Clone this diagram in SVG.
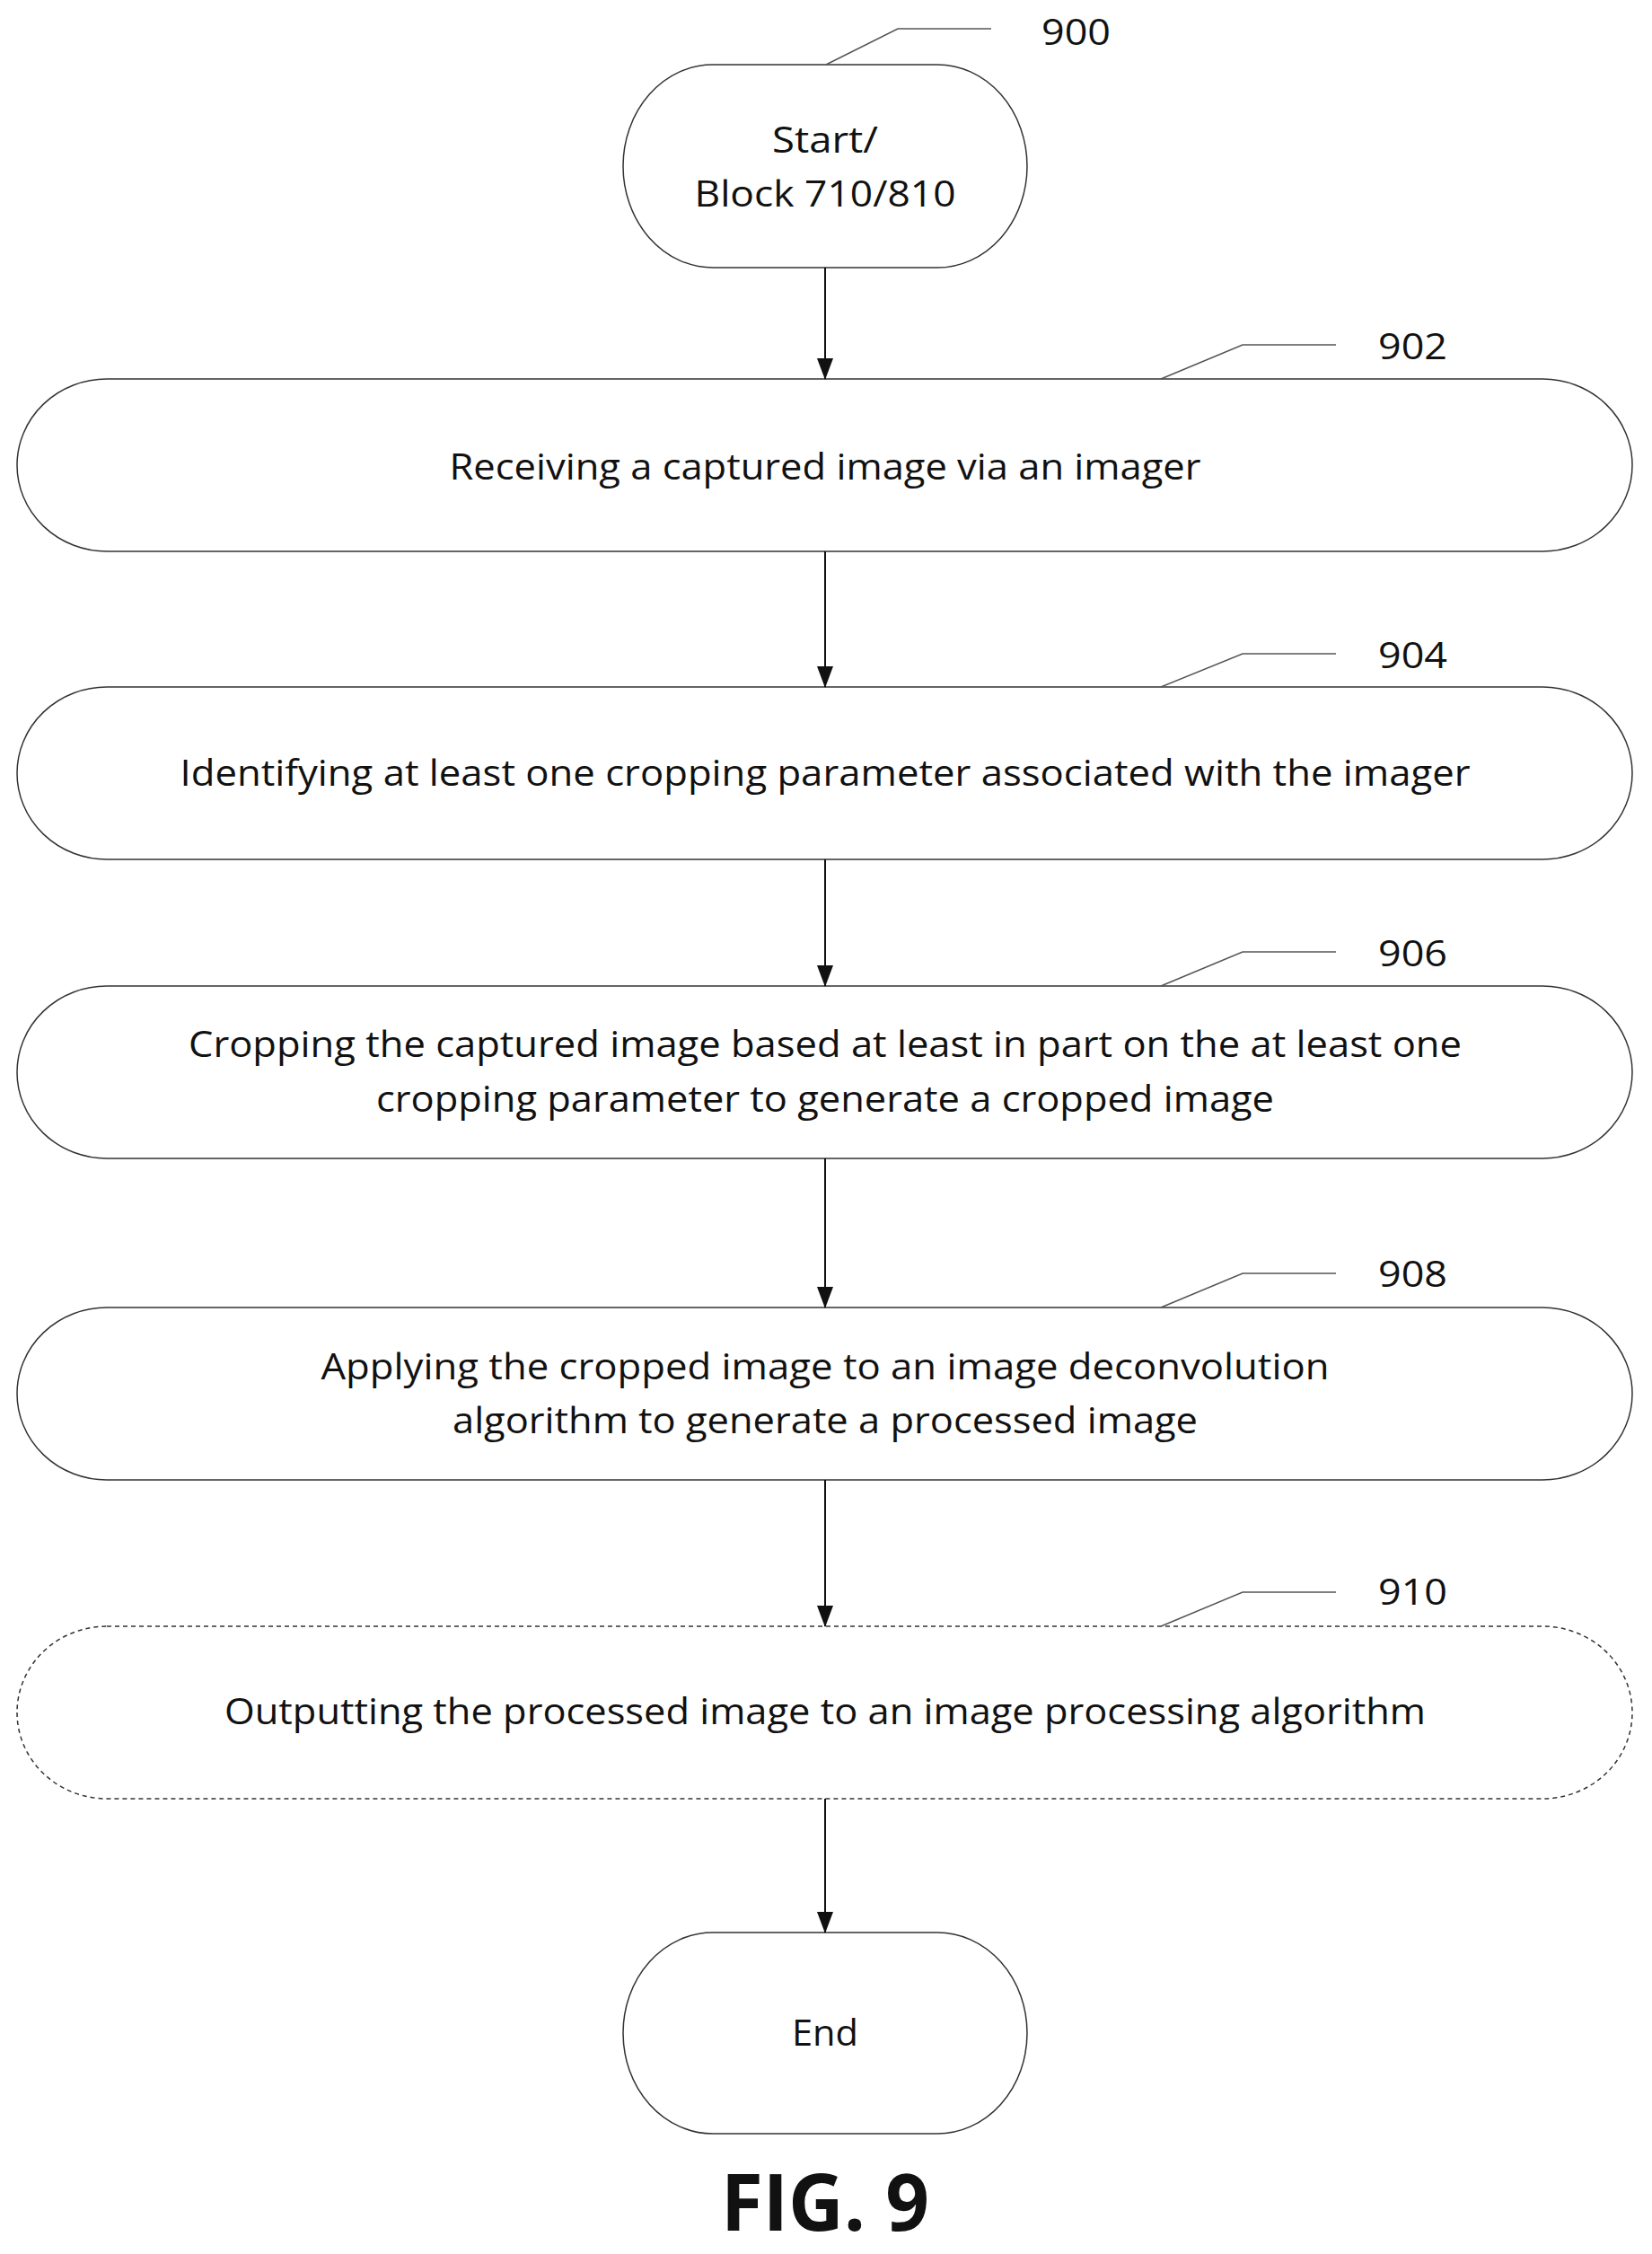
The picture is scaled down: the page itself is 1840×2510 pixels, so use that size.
<svg xmlns="http://www.w3.org/2000/svg" width="1840" height="2510" viewBox="0 0 1840 2510">
<style>
.n{fill:#fff;stroke:#333;stroke-width:1.5}
.d{stroke-dasharray:5 4}
.t{font-family:"Open Sans","Noto Sans",sans-serif;font-size:40px;fill:#111;text-anchor:middle}
.lab{font-family:"Open Sans","Noto Sans",sans-serif;font-size:40px;fill:#111}
.ld{fill:none;stroke:#555;stroke-width:1.5}
.c{stroke:#111;stroke-width:2;fill:none;marker-end:url(#a)}
</style>
<defs><marker id="a" markerWidth="24" markerHeight="18" refX="23" refY="9" orient="auto" markerUnits="userSpaceOnUse"><path d="M0,0 L24,9 L0,18 Z" fill="#111"/></marker></defs>
<rect width="1840" height="2510" fill="#fff"/>
<g id="n900">
<rect class="n" x="694" y="72" width="450" height="226" rx="100" ry="113"/>
<text class="t" x="919" y="170" textLength="118" lengthAdjust="spacingAndGlyphs">Start/</text>
<text class="t" x="919" y="230" textLength="291" lengthAdjust="spacingAndGlyphs">Block 710/810</text>
<polyline class="ld" points="920,72 1000,32 1104,32"/>
<text class="lab" x="1160" y="50" textLength="77" lengthAdjust="spacingAndGlyphs">900</text>
</g>
<g id="n902">
<rect class="n" x="19" y="422" width="1799" height="192" rx="100" ry="96"/>
<text class="t" x="919" y="534" textLength="837" lengthAdjust="spacingAndGlyphs">Receiving a captured image via an imager</text>
<polyline class="ld" points="1293,422 1384,384 1488,384"/>
<text class="lab" x="1535" y="400" textLength="77" lengthAdjust="spacingAndGlyphs">902</text>
</g>
<g id="n904">
<rect class="n" x="19" y="765" width="1799" height="192" rx="100" ry="96"/>
<text class="t" x="919" y="875" textLength="1437" lengthAdjust="spacingAndGlyphs">Identifying at least one cropping parameter associated with the imager</text>
<polyline class="ld" points="1293,765 1384,728 1488,728"/>
<text class="lab" x="1535" y="744" textLength="77" lengthAdjust="spacingAndGlyphs">904</text>
</g>
<g id="n906">
<rect class="n" x="19" y="1098" width="1799" height="192" rx="100" ry="96"/>
<text class="t" x="919" y="1177" textLength="1418" lengthAdjust="spacingAndGlyphs">Cropping the captured image based at least in part on the at least one</text>
<text class="t" x="919" y="1238" textLength="1000" lengthAdjust="spacingAndGlyphs">cropping parameter to generate a cropped image</text>
<polyline class="ld" points="1293,1098 1384,1060 1488,1060"/>
<text class="lab" x="1535" y="1076" textLength="77" lengthAdjust="spacingAndGlyphs">906</text>
</g>
<g id="n908">
<rect class="n" x="19" y="1456" width="1799" height="192" rx="100" ry="96"/>
<text class="t" x="919" y="1536" textLength="1123" lengthAdjust="spacingAndGlyphs">Applying the cropped image to an image deconvolution</text>
<text class="t" x="919" y="1596" textLength="830" lengthAdjust="spacingAndGlyphs">algorithm to generate a processed image</text>
<polyline class="ld" points="1293,1456 1384,1418 1488,1418"/>
<text class="lab" x="1535" y="1433" textLength="77" lengthAdjust="spacingAndGlyphs">908</text>
</g>
<g id="n910">
<rect class="n d" x="19" y="1811" width="1799" height="192" rx="100" ry="96"/>
<text class="t" x="919" y="1920" textLength="1338" lengthAdjust="spacingAndGlyphs">Outputting the processed image to an image processing algorithm</text>
<polyline class="ld" points="1293,1811 1384,1773 1488,1773"/>
<text class="lab" x="1535" y="1787" textLength="77" lengthAdjust="spacingAndGlyphs">910</text>
</g>
<g id="nEnd">
<rect class="n" x="694" y="2152" width="450" height="224" rx="100" ry="112"/>
<text class="t" x="919" y="2278" textLength="74" lengthAdjust="spacingAndGlyphs">End</text>
</g>
<g id="connectors">
<line class="c" x1="919" y1="298" x2="919" y2="422"/>
<line class="c" x1="919" y1="614" x2="919" y2="765"/>
<line class="c" x1="919" y1="957" x2="919" y2="1098"/>
<line class="c" x1="919" y1="1290" x2="919" y2="1456"/>
<line class="c" x1="919" y1="1648" x2="919" y2="1811"/>
<line class="c" x1="919" y1="2003" x2="919" y2="2152"/>
</g>
<text x="919" y="2484" text-anchor="middle" font-family="'Open Sans','Noto Sans',sans-serif" font-weight="bold" font-size="88" textLength="232" lengthAdjust="spacingAndGlyphs" fill="#111">FIG. 9</text>
</svg>
